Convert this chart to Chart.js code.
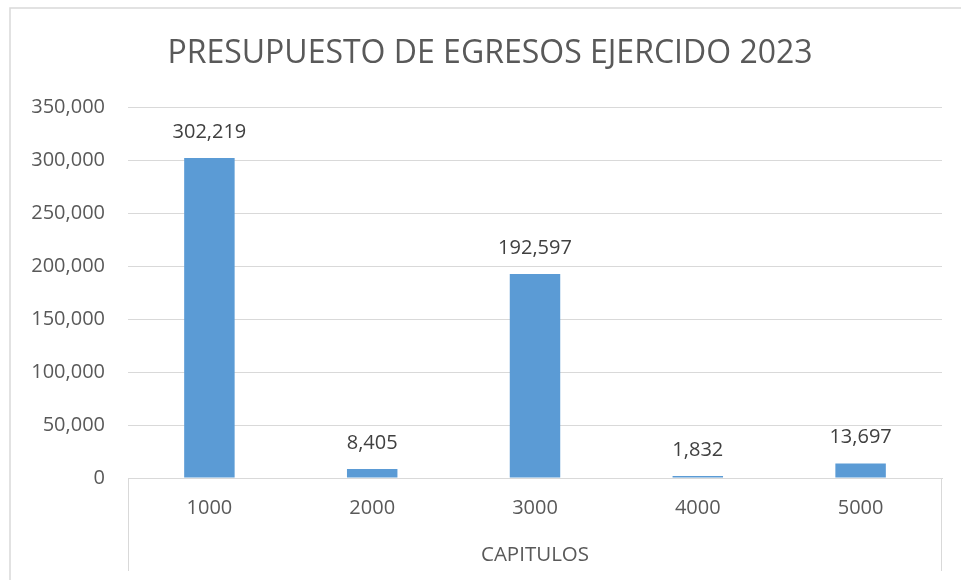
<!DOCTYPE html>
<html>
<head>
<meta charset="utf-8">
<script src="https://cdn.jsdelivr.net/npm/chart.js@4.4.0/dist/chart.umd.min.js"></script>
<style>
	html, body { margin: 0; padding: 0; background: #fff; overflow: hidden; }
	#wrap { width: 980px; height: 580px; position: relative; }
</style>
</head>
<body>
<div id="wrap"><canvas id="mycanvas"></canvas></div>
<script>
var capitulos = ["1000", "2000", "3000", "4000", "5000"];
var ejercido = [302219, 8405, 192597, 1832, 13697];
var yMax = 350000;
var yStep = 50000;

Chart.defaults.font.family = "'Open Sans', 'Liberation Sans', sans-serif";
Chart.defaults.color = "#595959";

function fmt(v) {
	return v.toLocaleString("en-US");
}

// marco del grafico y lineas verticales bajo el eje de categorias
var marco = {
	id: "marco",
	beforeDraw: function(chart) {
		var c = chart.ctx, a = chart.chartArea;
		c.save();
		c.strokeStyle = "#d9d9d9";
		c.lineWidth = 1.5;
		c.beginPath();
		c.moveTo(10, 580);
		c.lineTo(10, 8);
		c.lineTo(980, 8);
		c.stroke();
		c.lineWidth = 1;
		c.beginPath();
		c.moveTo(a.left + 0.5, a.bottom);
		c.lineTo(a.left + 0.5, 571);
		c.moveTo(a.right - 0.5, a.bottom);
		c.lineTo(a.right - 0.5, 571);
		c.stroke();
		c.restore();
	}
};

// etiquetas de valor sobre cada barra
var etiquetas = {
	id: "etiquetas",
	afterDatasetsDraw: function(chart) {
		var c = chart.ctx;
		var meta = chart.getDatasetMeta(0);
		c.save();
		c.font = "20px 'Open Sans', sans-serif";
		c.fillStyle = "#404040";
		c.textAlign = "center";
		c.textBaseline = "middle";
		meta.data.forEach(function(bar, i) {
			c.fillText(fmt(ejercido[i]), bar.x, bar.y - 26);
		});
		c.restore();
	}
};

var chartdata = {
	labels: capitulos,
	datasets: [
		{
			label: "Ejercido",
			backgroundColor: "#5b9bd5",
			borderWidth: 0,
			barPercentage: 0.31,
			categoryPercentage: 1,
			data: ejercido
		}
	]
};

var ctx = document.getElementById("mycanvas");

var barGraph = new Chart(ctx, {
	type: "bar",
	data: chartdata,
	plugins: [marco, etiquetas],
	options: {
		responsive: true,
		maintainAspectRatio: false,
		animation: false,
		layout: { padding: 0 },
		plugins: {
			legend: { display: false },
			tooltip: { enabled: false },
			title: {
				display: true,
				text: "PRESUPUESTO DE EGRESOS EJERCIDO 2023",
				color: "#595959",
				font: { size: 32, weight: "normal" },
				padding: { top: 35, bottom: 34 }
			}
		},
		scales: {
			x: {
				grid: { display: false, drawTicks: false },
				border: { display: true, color: "#d9d9d9", width: 1 },
				ticks: { color: "#595959", font: { size: 20 }, padding: 18 },
				title: {
					display: true,
					text: "CAPITULOS",
					color: "#595959",
					font: { size: 20.5 },
					padding: { top: 0, bottom: 13 }
				},
				afterFit: function(scale) { scale.height = 102; }
			},
			y: {
				min: 0,
				max: yMax,
				grid: { color: "#d9d9d9", lineWidth: 1, drawTicks: false },
				border: { display: false },
				ticks: {
					stepSize: yStep,
					color: "#595959",
					font: { size: 20 },
					padding: 23,
					callback: function(v) { return fmt(v); }
				},
				afterFit: function(scale) { scale.width = 128; }
			},
			// eje vacio a la derecha, solo reserva el margen
			margen: {
				type: "linear",
				position: "right",
				display: true,
				grid: { display: false, drawTicks: false },
				border: { display: false },
				ticks: { display: false },
				afterFit: function(scale) { scale.width = 38; }
			}
		}
	}
});
</script>
</body>
</html>
